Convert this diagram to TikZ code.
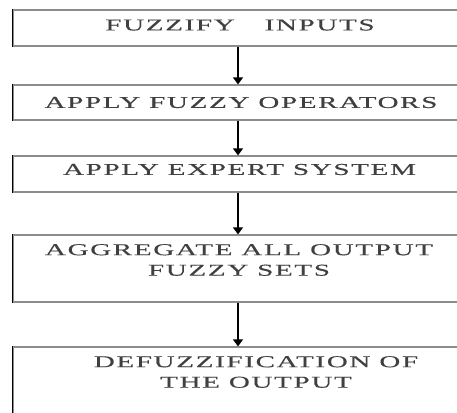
\documentclass[tikz,border=0pt]{standalone}
\usepackage{fontspec}
\usetikzlibrary{arrows.meta,positioning}
\newfontfamily\flowfont[FakeStretch=1.75,LetterSpace=10,FakeBold=0.4]{Liberation Serif}
\tikzset{
    stagebox/.style={draw=black!45, line width=1.2pt, minimum width=450pt,
        inner sep=0pt},
    flowarrow/.style={-{Triangle[length=7pt,width=10pt]}, line width=1.3pt}
}
\begin{document}
\begin{tikzpicture}[
    x=1pt, y=-1pt,
    stagetext/.style={align=center, text=black!75, inner sep=0pt,
        font=\flowfont\fontsize{16.6}{20.5}\selectfont},
    leftedge/.style={line width=1.8pt, black}
]
\useasboundingbox (0,0) rectangle (457,412);
\clip (0,0) rectangle (457,412);
\node[stagebox, minimum height=36pt] (fuzz) at (238,28) {};
\node[stagebox, minimum height=35pt] (oper) at (238,102.5) {};
\node[stagebox, minimum height=36pt] (expert) at (238,174) {};
\node[stagebox, minimum height=67pt] (aggr) at (238,268.5) {};
\node[stagebox, minimum height=73pt] (defuzz) at (238,383.5) {};
\foreach \b in {fuzz,oper,expert,aggr,defuzz}
    \draw[leftedge] (\b.north west) -- (\b.south west);
% labels
\node[stagetext] (fuzzt) at (240,25) {FUZZIFY\hspace{1.8em}INPUTS};
\node[stagetext] (opert) at (241,102.5) {APPLY FUZZY OPERATORS};
\node[stagetext] (expertt) at (239.5,169.5) {APPLY EXPERT SYSTEM};
\node[stagetext] (aggrt) at (239,260) {AGGREGATE ALL OUTPUT\\FUZZY SETS};
\node[stagetext] (defuzzt) at (256,372) {DEFUZZIFICATION OF\\THE OUTPUT};
\draw[flowarrow] (fuzz) -- (oper);
\draw[flowarrow] (oper) -- (expert);
\draw[flowarrow] (expert) -- (aggr);
\draw[flowarrow] (aggr) -- (defuzz);
\end{tikzpicture}
\end{document}
